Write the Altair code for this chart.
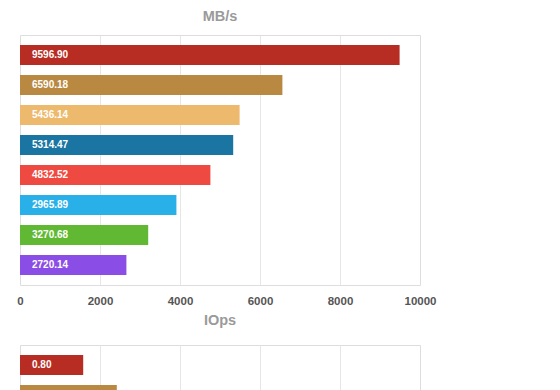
import altair as alt
import pandas as pd

# --- data ---
mb_labels = ["9596.90", "6590.18", "5436.14", "5314.47", "4832.52", "2965.89", "3270.68", "2720.14"]
mb_values = [9490, 6560, 5490, 5330, 4760, 3910, 3205, 2660]
io_labels = ["0.80", "1.21"]
io_values = [0.79, 1.21]
bar_colors = ["#B82D23", "#B98841", "#EDB96C", "#1B75A2", "#EF4A42", "#29B0E8", "#61B933", "#8A4DE6"]
mb_ticks = [0, 2000, 4000, 6000, 8000, 10000]
io_ticks = [0, 1, 2, 3, 4, 5]

FONT = "Liberation Sans"


def panel(values, labels, title, ticks, height, offset, show_labels=True):
    n = len(values)
    df = pd.DataFrame({"k": list(range(n)), "v": values, "lab": labels, "c": bar_colors[:n]})
    y = alt.Y("k:O", axis=None, scale=alt.Scale(paddingInner=1 / 3, paddingOuter=1 / 3))
    x = alt.X(
        "v:Q",
        title=None,
        scale=alt.Scale(domain=[ticks[0], ticks[-1]], nice=False, zero=True),
        axis=alt.Axis(
            values=ticks,
            grid=True,
            gridColor="#e6e6e6",
            gridOpacity={"condition": {"test": f"datum.value == {ticks[0]} || datum.value == {ticks[-1]}", "value": 0}, "value": 1},
            domain=False,
            ticks=False,
            labels=show_labels,
            labelPadding=10,
            labelFont=FONT,
            labelFontSize=11.5,
            labelFontWeight="bold",
            labelColor="#555555",
            format="d",
            labelFlush=False,
        ),
    )
    bars = alt.Chart(df).mark_bar().encode(x=x, y=y, color=alt.Color("c:N", scale=None, legend=None))
    text = alt.Chart(df).mark_text(
        align="left", baseline="middle", dx=12, color="white", fontSize=10, font=FONT, fontWeight="bold"
    ).encode(x=alt.value(0), y=y, text="lab:N")
    return (bars + text).properties(
        width=400,
        height=height,
        title=alt.TitleParams(
            text=title, font=FONT, fontSize=14.5, fontWeight="bold", color="#9a9a9a",
            anchor="middle", offset=offset,
        ),
    )


top = panel(mb_values, mb_labels, "MB/s", mb_ticks, 250, 11)
bottom = panel(io_values, io_labels, "IOps", io_ticks, 70, 17, show_labels=False)

chart = (
    alt.vconcat(top, bottom, spacing=5)
    .properties(padding={"left": 8, "top": 0, "right": 5, "bottom": 5})
    .configure_view(stroke="#aaaaaa", strokeWidth=1)
    .configure(background="white")
)

chart.save("out.html", embed_options={"renderer": "svg", "actions": False})
